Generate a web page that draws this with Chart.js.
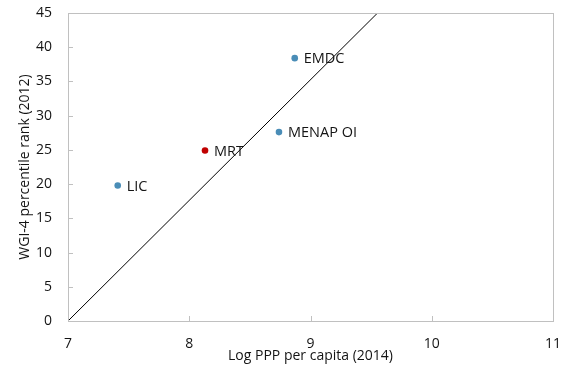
<!DOCTYPE html>
<html>
<head>
<meta charset="utf-8">
<script src="https://cdn.jsdelivr.net/npm/chart.js@4/dist/chart.umd.min.js"></script>
<style>
  html, body { margin: 0; padding: 0; background: #fff; }
  #wrap { width: 568px; height: 366px; }
</style>
</head>
<body>
<div id="wrap"><canvas id="c" width="568" height="366"></canvas></div>
<script>
// Country groups: log PPP per capita (2014) vs WGI-4 percentile rank (2012)
const groups = ['LIC', 'MRT', 'MENAP OI', 'EMDC'];
const logPPP = [7.41, 8.13, 8.74, 8.87];
const wgiRank = [19.8, 24.9, 27.6, 38.4];
const pointColors = ['#4a8db7', '#c00000', '#4a8db7', '#4a8db7'];

// Fitted line endpoints (x, y)
const fitX = [7, 9.553];
const fitY = [0, 45];

const xTicks = [7, 8, 9, 10, 11];
const yTicks = [0, 5, 10, 15, 20, 25, 30, 35, 40, 45];

const FONT = "'Open Sans', 'Noto Sans', sans-serif";
const BORDER = '#c0c0c0';
const TEXT = '#141414';

// Short tick marks drawn inward from the frame, plus the point labels
const frameAndLabels = {
  id: 'frameAndLabels',
  afterDatasetsDraw(chart) {
    const {ctx, chartArea: a, scales: {x, y}} = chart;
    ctx.save();
    ctx.strokeStyle = BORDER;
    ctx.lineWidth = 1;
    ctx.strokeRect(Math.round(a.left) + 0.5, Math.round(a.top) + 0.5,
                   Math.round(a.right - a.left), Math.round(a.bottom - a.top));
    ctx.beginPath();
    xTicks.forEach(v => {
      const px = Math.round(x.getPixelForValue(v)) + 0.5;
      ctx.moveTo(px, a.bottom);
      ctx.lineTo(px, a.bottom - 5);
    });
    yTicks.forEach(v => {
      const py = Math.round(y.getPixelForValue(v)) + 0.5;
      ctx.moveTo(a.left, py);
      ctx.lineTo(a.left + 5, py);
    });
    ctx.stroke();

    const meta = chart.getDatasetMeta(1);
    ctx.fillStyle = TEXT;
    ctx.font = '14.5px ' + FONT;
    ctx.textBaseline = 'middle';
    ctx.textAlign = 'left';
    meta.data.forEach((pt, i) => {
      ctx.fillText(groups[i], pt.x + 9, pt.y + 1);
    });
    ctx.restore();
  }
};

new Chart(document.getElementById('c'), {
  data: {
    datasets: [
      {
        type: 'line',
        data: fitX.map((v, i) => ({x: v, y: fitY[i]})),
        borderColor: '#000',
        borderWidth: 1,
        pointRadius: 0,
        fill: false
      },
      {
        type: 'scatter',
        data: logPPP.map((v, i) => ({x: v, y: wgiRank[i]})),
        backgroundColor: pointColors,
        borderColor: pointColors,
        pointRadius: 3.3,
        borderWidth: 0
      }
    ]
  },
  options: {
    responsive: false,
    animation: false,
    devicePixelRatio: 1,
    layout: { padding: { left: 0, right: 15, top: 13, bottom: 0 } },
    plugins: { legend: { display: false }, tooltip: { enabled: false } },
    scales: {
      x: {
        type: 'linear',
        min: 7, max: 11,
        afterBuildTicks(s) { s.ticks = xTicks.map(v => ({value: v})); },
        afterFit(s) { s.height = 45; s.paddingLeft = 0; s.paddingRight = 0; },
        grid: { display: false, drawTicks: false },
        border: { display: false },
        ticks: { color: TEXT, font: { family: FONT, size: 14 }, padding: 15 },
        title: {
          display: true,
          text: 'Log PPP per capita (2014)',
          color: TEXT,
          font: { family: FONT, size: 14 },
          padding: { top: 0, bottom: 2 }
        }
      },
      y: {
        type: 'linear',
        min: 0, max: 45,
        afterBuildTicks(s) { s.ticks = yTicks.map(v => ({value: v})); },
        afterFit(s) { s.width = 68; s.paddingTop = 0; s.paddingBottom = 0; },
        grid: { display: false, drawTicks: false },
        border: { display: false },
        ticks: { color: TEXT, font: { family: FONT, size: 14 }, padding: 16 },
        title: {
          display: true,
          text: 'WGI-4 percentile rank (2012)',
          color: TEXT,
          font: { family: FONT, size: 14 },
          padding: { top: 17, bottom: 0 }
        }
      }
    }
  },
  plugins: [frameAndLabels]
});
</script>
</body>
</html>
